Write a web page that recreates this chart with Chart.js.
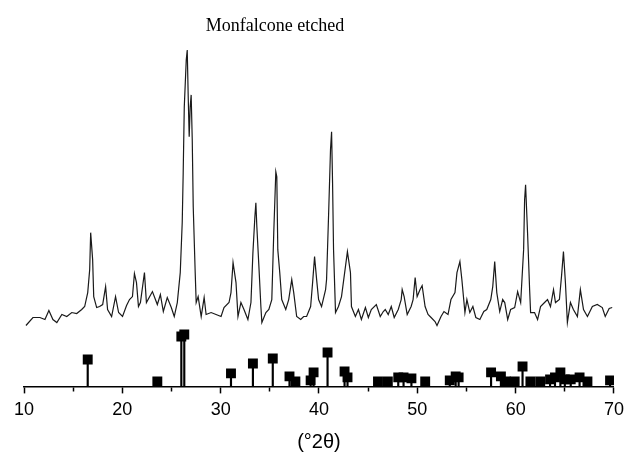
<!DOCTYPE html>
<html>
<head>
<meta charset="utf-8">
<script src="https://cdn.jsdelivr.net/npm/chart.js@4.4.1/dist/chart.umd.min.js"></script>
<style>
  html, body { margin: 0; padding: 0; background: #fff; }
  #wrap { position: relative; width: 630px; height: 454px; }
  #title {
    position: absolute; left: 0; top: 15px; width: 550px;
    text-align: center; font: 18px "Liberation Serif", serif; line-height: 20px; color: #000;
  }
</style>
</head>
<body>
<div id="wrap">
  <div id="title">Monfalcone etched</div>
  <canvas id="xrd" width="630" height="454"></canvas>
</div>
<script>
// measured XRD trace (2theta, counts in arbitrary units, offset above the axis)
const traceTheta = [10.20, 10.91, 11.62, 12.13, 12.53, 12.94, 13.34, 13.85, 14.35, 14.86, 15.36, 15.87, 16.17, 16.48, 16.68, 16.78, 16.98, 17.09, 17.39, 17.69,
  18.00, 18.30, 18.50, 18.91, 19.31, 19.62, 20.02, 20.43, 20.73, 21.03, 21.23, 21.44, 21.64, 21.84, 22.25, 22.45, 23.06, 23.56, 23.87, 24.17,
  24.57, 24.98, 25.28, 25.59, 25.89, 26.09, 26.19, 26.30, 26.50, 26.60, 26.70, 26.80, 26.90, 27.00, 27.11, 27.21, 27.41, 27.51, 27.71, 28.02,
  28.32, 28.52, 29.03, 29.53, 30.04, 30.34, 30.85, 31.05, 31.26, 31.56, 31.76, 32.06, 32.37, 32.77, 33.08, 33.28, 33.48, 33.58, 33.68, 33.89,
  34.09, 34.19, 34.60, 34.90, 35.20, 35.40, 35.61, 35.71, 35.81, 36.01, 36.21, 36.62, 36.92, 37.23, 37.43, 37.73, 38.14, 38.44, 38.74, 39.15,
  39.35, 39.55, 39.76, 39.96, 40.26, 40.67, 40.77, 40.97, 41.17, 41.28, 41.38, 41.48, 41.68, 41.98, 42.29, 42.69, 42.89, 43.20, 43.30, 43.70,
  44.01, 44.31, 44.72, 45.02, 45.32, 45.83, 46.23, 46.54, 46.74, 47.04, 47.35, 47.65, 48.06, 48.36, 48.46, 48.66, 48.97, 49.37, 49.57, 49.78,
  49.98, 50.28, 50.49, 50.79, 51.09, 51.40, 51.80, 52.00, 52.41, 52.71, 53.12, 53.42, 53.83, 54.03, 54.33, 54.53, 54.84, 55.04, 55.34, 55.65,
  55.95, 56.36, 56.76, 57.06, 57.47, 57.67, 57.87, 58.08, 58.38, 58.68, 58.89, 59.19, 59.49, 59.90, 60.20, 60.51, 60.81, 60.91, 61.01, 61.21,
  61.42, 61.52, 61.92, 62.23, 62.53, 62.94, 63.24, 63.54, 63.85, 64.05, 64.45, 64.66, 64.86, 65.06, 65.26, 65.57, 65.87, 66.28, 66.58, 66.90,
  67.30, 67.80, 68.30, 68.81, 69.11, 69.51, 69.82];
const traceCounts = [61, 69, 69, 67, 76, 67, 64, 72, 70, 74, 73, 77, 80, 94, 117, 154, 127, 90, 79, 80,
  82, 100, 77, 70, 90, 74, 70, 81, 87, 90, 113, 104, 80, 84, 114, 84, 95, 82, 92, 75,
  89, 79, 70, 84, 114, 164, 214, 280, 327, 337, 290, 250, 280, 292, 247, 180, 114, 84, 90, 70,
  89, 72, 74, 72, 70, 79, 84, 94, 124, 104, 70, 84, 77, 67, 84, 134, 170, 184, 160, 120,
  80, 64, 74, 77, 87, 154, 215, 210, 137, 114, 87, 77, 87, 107, 94, 70, 67, 70, 70, 80,
  104, 130, 107, 87, 80, 97, 107, 170, 237, 255, 204, 137, 74, 80, 90, 120, 135, 114, 80, 70,
  77, 67, 79, 69, 77, 82, 70, 75, 77, 72, 80, 69, 77, 87, 97, 90, 72, 80, 87, 109,
  90, 97, 101, 80, 72, 69, 65, 61, 70, 75, 72, 87, 94, 114, 125, 107, 74, 87, 74, 80,
  69, 67, 75, 77, 87, 100, 125, 94, 75, 87, 84, 67, 77, 79, 95, 84, 137, 187, 202, 154,
  97, 74, 74, 67, 80, 84, 87, 80, 97, 84, 87, 110, 135, 104, 64, 84, 77, 70, 97, 77,
  70, 80, 82, 79, 70, 78, 79];

// reference pattern sticks
const refTheta = [16.48, 23.56, 26.0, 26.3, 31.05, 33.28, 35.3, 37.0, 37.6, 39.15, 39.45, 40.87, 42.6, 42.9,
  46.0, 47.0, 48.06, 48.6, 49.4, 50.8, 53.3, 53.9, 54.2, 57.5, 58.5, 59.0, 59.9, 60.7,
  61.5, 62.5, 63.5, 64.0, 64.55, 65.0, 65.6, 66.5, 67.3, 69.6];
const refIntensity = [27, 5, 50, 52, 13, 23, 28, 10, 5, 6, 14, 34, 15, 9,
  5, 5, 9, 9, 8, 5, 6, 10, 9, 14, 10, 5, 5, 20,
  5, 5, 7, 9, 14, 7, 7, 9, 5, 6];

const xTicks = [10, 20, 30, 40, 50, 60, 70];

const trace = traceTheta.map((t, i) => ({ x: t, y: traceCounts[i] }));
const sticks = refTheta.map((t, i) => ({ x: t, y: refIntensity[i] }));

new Chart(document.getElementById('xrd'), {
  type: 'scatter',
  data: {
    datasets: [
      {
        type: 'line',
        data: trace,
        borderColor: '#1a1a1a',
        borderWidth: 1.2,
        pointRadius: 0,
        tension: 0
      },
      {
        type: 'bar',
        data: sticks,
        backgroundColor: '#000',
        barThickness: 1.5
      },
      {
        type: 'scatter',
        data: sticks,
        pointStyle: 'rect',
        pointRadius: 7,
        backgroundColor: '#000',
        borderColor: '#000',
        borderWidth: 0
      }
    ]
  },
  options: {
    responsive: false,
    animation: false,
    layout: { padding: { left: 24, right: 11, top: 37, bottom: 0 } },
    plugins: { legend: { display: false }, tooltip: { enabled: false } },
    scales: {
      x: {
        type: 'linear',
        min: 10,
        max: 70,
        offset: false,
        afterBuildTicks: axis => {
          const t = [];
          for (let v = 10; v <= 70; v += 5) t.push({ value: v });
          axis.ticks = t;
        },
        ticks: {
          autoSkip: false,
          maxRotation: 0,
          padding: 6,
          color: '#000',
          font: { family: 'Liberation Sans', size: 18 },
          callback: v => xTicks.includes(v) ? String(v) : ''
        },
        grid: {
          offset: false,
          drawOnChartArea: false,
          tickLength: 7,
          tickWidth: 1.5,
          tickColor: '#000',
          tickBorderDash: ctx => (ctx.tick && xTicks.includes(ctx.tick.value)) ? [] : [4, 20]
        },
        border: { color: '#000', width: 1.5 },
        title: {
          display: true,
          text: '(°2θ)',
          color: '#000',
          font: { family: 'Liberation Sans', size: 20 },
          padding: { top: 3, bottom: 0 }
        }
      },
      y: {
        display: false,
        min: 0,
        max: 350
      }
    }
  }
});
</script>
</body>
</html>
